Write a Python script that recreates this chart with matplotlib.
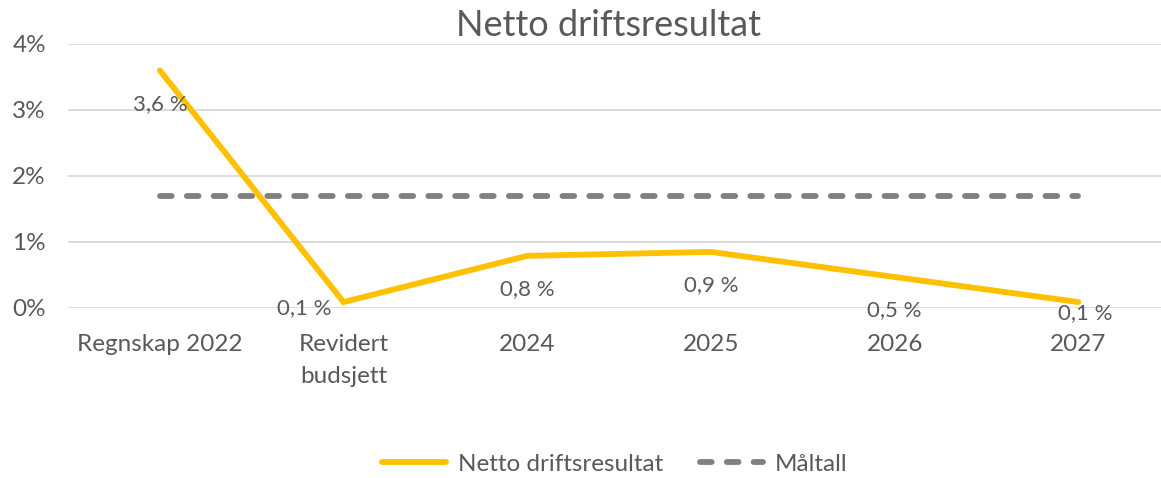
import matplotlib
matplotlib.use('Agg')
import matplotlib.pyplot as plt
from matplotlib.ticker import FuncFormatter

# data
categories = ['Regnskap 2022', 'Revidert\nbudsjett', '2024', '2025', '2026', '2027']
netto = [3.6, 0.09, 0.79, 0.85, 0.47, 0.09]
netto_labels = ['3,6 %', '0,1 %', '0,8 %', '0,9 %', '0,5 %', '0,1 %']
maltall = [1.7, 1.7, 1.7, 1.7, 1.7, 1.7]

# label offsets (points) relative to each data point
label_offsets = [(0, -24), (-28, -4), (0, -24), (0, -24), (0, -24), (5, -8)]

plt.rcParams['font.family'] = ['Lato', 'DejaVu Sans']
textcol = '#595959'

fig = plt.figure(figsize=(11.61, 4.78), dpi=100)
ax = fig.add_axes([68 / 1161, 170 / 478, 1093 / 1161, 264 / 478])

x = range(len(categories))
ax.plot(x, netto, color='#FFC000', lw=4.2, solid_capstyle='round',
        solid_joinstyle='miter', label='Netto driftsresultat', zorder=3)
ax.plot(x, maltall, color='#808080', lw=4.2, dashes=(2.0, 2.6),
        dash_capstyle='round', label='Måltall', zorder=2)

for i, (v, lab) in enumerate(zip(netto, netto_labels)):
    ax.annotate(lab, (i, v), xytext=label_offsets[i], textcoords='offset points',
                ha='center', va='center', fontsize=16, color=textcol)

ax.set_xlim(-0.5, 5.45)
ax.set_ylim(0, 4)
ax.set_yticks([0, 1, 2, 3, 4])
ax.yaxis.set_major_formatter(FuncFormatter(lambda v, p: f'{v:.0f}%'))
ax.set_xticks(list(x))
ax.set_xticklabels(categories, linespacing=1.6)
ax.tick_params(axis='both', length=0, labelsize=17.5, labelcolor=textcol)
ax.tick_params(axis='x', pad=19)
ax.tick_params(axis='y', pad=28)
for lab in ax.get_yticklabels():
    lab.set_ha('center')
ax.grid(axis='y', color='#D9D9D9', lw=1.3)
ax.set_axisbelow(True)
for s in ax.spines.values():
    s.set_visible(False)

fig.text(608 / 1161, 1 - 25 / 478, 'Netto driftsresultat', ha='center', va='center',
         fontsize=26, color=textcol)

fig.legend(loc='center', bbox_to_anchor=(615 / 1161, 1 - 464 / 478), ncol=2,
           frameon=False, fontsize=17.5, labelcolor=textcol, handlelength=2.6,
           handletextpad=0.5, columnspacing=1.5)

fig.savefig('out.png', dpi=100)
